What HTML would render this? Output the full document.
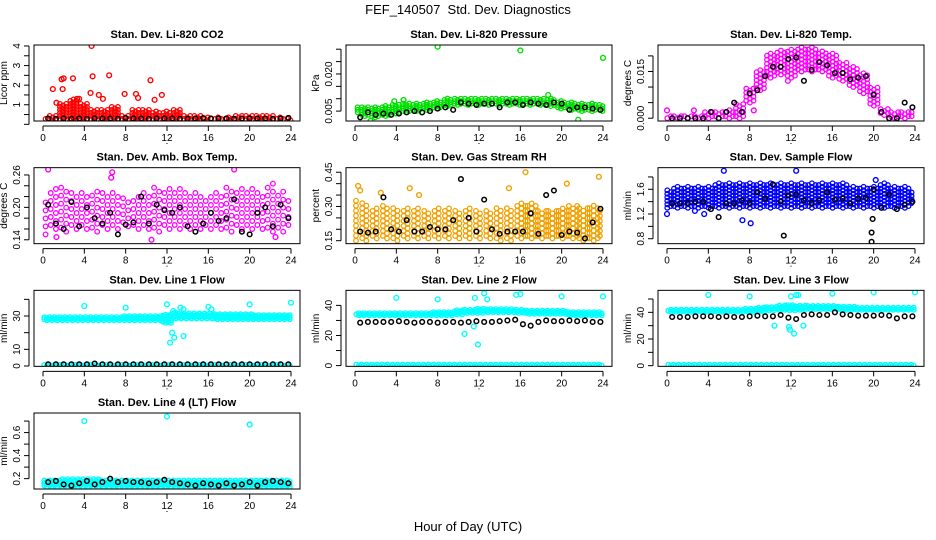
<!DOCTYPE html>
<html><head><meta charset="utf-8"><style>
body{margin:0;background:#fff}
svg{display:block;font-family:"Liberation Sans",sans-serif}
</style></head><body>
<svg id="chart" width="936" height="540" viewBox="0 0 936 540">
<text x="468" y="14" text-anchor="middle" font-size="13" style="white-space:pre">FEF_140507&#160; Std. Dev. Diagnostics</text>
<text x="468" y="531" text-anchor="middle" font-size="13">Hour of Day (UTC)</text>
</svg>
<script>
const hours=[0,1,2,3,4,5,6,7,8,9,10,11,12,13,14,15,16,17,18,19,20,21,22,23,24];
const blackT=[0.5,1.25,2,2.75,3.5,4.25,5,5.75,6.5,7.25,8,8.75,9.5,10.25,11,11.75,12.5,13.25,14,14.75,15.5,16.25,17,17.75,18.5,19.25,20,20.75,21.5,22.25,23,23.75];
const xTicks=[0,4,8,12,16,20,24];

const co2Lo=[0.2,0.2,0.2,0.2,0.2,0.2,0.2,0.2,0.2,0.2,0.2,0.2,0.2,0.2,0.2,0.2,0.2,0.2,0.2,0.2,0.2,0.2,0.2,0.2,0.2];
const co2Hi=[0.4,0.5,1.1,1.3,1.1,0.8,0.8,0.9,0.5,0.8,0.8,0.7,0.7,0.8,0.5,0.45,0.4,0.4,0.4,0.45,0.45,0.5,0.45,0.4,0.35];
const co2Black=[0.3,0.28,0.3,0.28,0.3,0.28,0.3,0.3,0.3,0.28,0.32,0.3,0.3,0.28,0.3,0.3,0.3,0.28,0.28,0.3,0.32,0.3,0.3,0.3,0.28,0.3,0.3,0.3,0.3,0.28,0.3,0.33];
const co2OutT=[4.7,4.8,6.4,1.8,2,2.9,0.95,1.9,10.4,11.5,9,9.2,5.4,7.9,10.8,3.5,1.3,3.3,4.6,5.8];
const co2OutV=[4.0,2.45,2.5,2.3,2.35,2.35,1.8,1.8,2.25,1.5,1.55,1.35,1.5,1.55,1.25,1.3,1.1,1.3,1.6,1.3];

const presLo=[0.004,0.003,0.0025,0.003,0.004,0.0045,0.005,0.0055,0.006,0.007,0.0075,0.0075,0.0075,0.0075,0.0075,0.0075,0.0075,0.0075,0.0075,0.007,0.006,0.0055,0.005,0.005,0.005];
const presHi=[0.0075,0.007,0.007,0.0075,0.008,0.0085,0.0085,0.009,0.0095,0.0105,0.0105,0.0105,0.0105,0.0105,0.0105,0.0105,0.0105,0.0105,0.0105,0.0105,0.0095,0.009,0.0085,0.0085,0.008];
const presBlack=[0.0025,0.0045,0.0035,0.004,0.0035,0.004,0.0045,0.005,0.0045,0.005,0.006,0.0065,0.0055,0.0085,0.008,0.0075,0.008,0.008,0.0065,0.0085,0.0085,0.0075,0.0085,0.008,0.0075,0.0085,0.008,0.0055,0.0065,0.0065,0.006,0.0055];
const presOutT=[8,16,24,1.5,21.6,3.8,4.7,6.5,18.7];
const presOutV=[0.031,0.0295,0.0265,0.001,0.0015,0.009,0.0095,0.0045,0.0115];

const tempLo=[0,0,0,0,0,0,0,0,0.005,0.009,0.013,0.014,0.013,0.015,0.015,0.015,0.013,0.012,0.01,0.008,0.004,0.001,0,0,0];
const tempHi=[0.001,0.001,0.001,0.001,0.002,0.002,0.003,0.005,0.01,0.016,0.021,0.022,0.022,0.023,0.023,0.022,0.021,0.018,0.017,0.015,0.01,0.003,0.002,0.002,0.002];
const tempBlack=[0,0,0,0,0,0.002,0,0.002,0.005,0.002,0.008,0.009,0.0135,0.0165,0.0165,0.019,0.0195,0.012,0.0155,0.018,0.017,0.0145,0.0145,0.0125,0.013,0.0135,0.0075,0.002,0,0,0.005,0.0035];
const tempOutT=[0,2.6,8.4,11.7];
const tempOutV=[0.0025,0.0025,0.0025,0.012];

const boxLo=[0.15,0.16,0.155,0.16,0.16,0.155,0.16,0.16,0.165,0.16,0.16,0.155,0.16,0.16,0.16,0.16,0.16,0.16,0.155,0.16,0.16,0.16,0.155,0.155,0.16];
const boxHi=[0.22,0.24,0.24,0.23,0.23,0.235,0.23,0.23,0.22,0.225,0.23,0.24,0.24,0.235,0.23,0.23,0.225,0.23,0.24,0.24,0.235,0.23,0.245,0.23,0.22];
const boxBlack=[0.205,0.17,0.16,0.21,0.165,0.2,0.18,0.17,0.19,0.15,0.168,0.172,0.22,0.17,0.205,0.195,0.19,0.2,0.165,0.155,0.17,0.19,0.175,0.18,0.215,0.155,0.15,0.19,0.2,0.165,0.205,0.18];
const boxOutT=[0.5,6.6,6.7,18.5,10.5,1.3,22.5];
const boxOutV=[0.27,0.255,0.265,0.27,0.14,0.145,0.145];

const rhLo=[0.15,0.15,0.16,0.16,0.15,0.16,0.16,0.16,0.16,0.16,0.16,0.16,0.16,0.16,0.15,0.15,0.16,0.16,0.16,0.16,0.16,0.16,0.15,0.15,0.16];
const rhHi=[0.33,0.32,0.3,0.31,0.3,0.3,0.3,0.29,0.3,0.3,0.29,0.3,0.29,0.29,0.3,0.3,0.32,0.32,0.29,0.29,0.3,0.31,0.3,0.31,0.3];
const rhBlack=[0.19,0.185,0.19,0.34,0.2,0.19,0.24,0.19,0.19,0.21,0.2,0.2,0.24,0.42,0.25,0.19,0.33,0.2,0.18,0.19,0.19,0.19,0.27,0.18,0.35,0.37,0.175,0.19,0.185,0.16,0.23,0.29];
const rhOutT=[0.3,0.5,5.3,6.2,16.5,23.6,20.5,14.9,2.5];
const rhOutV=[0.39,0.37,0.38,0.35,0.45,0.43,0.4,0.38,0.36];

const flowLo=[1.3,1.3,1.3,1.3,1.3,1.3,1.3,1.3,1.3,1.3,1.3,1.3,1.3,1.3,1.3,1.3,1.3,1.3,1.3,1.3,1.3,1.3,1.3,1.3,1.35];
const flowHi=[1.6,1.65,1.65,1.65,1.65,1.7,1.7,1.7,1.7,1.7,1.7,1.7,1.7,1.7,1.7,1.7,1.7,1.7,1.65,1.65,1.65,1.7,1.65,1.65,1.6];
const flowBlack=[1.37,1.37,1.38,1.4,1.4,1.28,1.15,1.37,1.37,1.42,1.38,1.55,1.45,1.68,1.4,1.5,1.52,1.42,1.38,1.42,1.55,1.43,1.45,1.37,1.45,1.46,1.6,1.3,1.52,1.28,1.35,1.4];
const flowOutT=[0,5.5,12.5,7.3,3.6,20.2,8.1,2.7];
const flowOutV=[1.2,1.9,1.9,1.1,1.2,1.75,1.05,1.25];
const flowBlackOutT=[11.3,19.8,19.8,19.9];
const flowBlackOutV=[0.85,0.9,0.75,1.12];

const l1Lo=[27.5,27.5,27.5,27.5,27.5,27.5,27.5,27.5,27.5,27.5,27.5,27.5,26,28.5,28.5,28.5,28.5,28,28,28,28,28,28,28,28];
const l1Hi=[29.5,29.5,29.5,29.5,29.5,29.5,29.5,29.5,30,30,30,30,31,31.5,31.5,31.5,31.5,31,31,31,31,30.5,30.5,30.5,30.5];
const l1Black=[1,1,1,1,1,1,1.5,1,1,1,1,1,1,1,1,1,1,1,1,1,1,1,1,1,1,1,1,1,1,1,1,1];
const l1OutT=[4,8,12,12.6,12.8,13.3,13.6,16,16.3,20,24,12.3,12.5,12.7,13.6];
const l1OutV=[36,35,37,33,32,35,34,35.5,34,37,38,14,20,17,18];

const l2Lo=[33.5,33.5,33.5,33.5,33.5,33.5,33.5,33.5,33.5,33.5,34,35,35,35.5,35.5,35.5,35,34.5,34.5,34.5,34.5,33.5,33.5,33.5,33.5];
const l2Hi=[35,35,35,35,35,35,35,35,35.5,36,37,37.5,38,38,38,38,37.5,37,37,37,36.5,36,36,36,36];
const l2Black=[28.5,29,29,29,29,29.5,29,28.5,29,29,28.5,29,29,28.5,29,29.5,29,29,29.5,30,30.5,27.5,26.5,29,30,29.5,29.5,30,29.5,30,29,29];
const l2OutT=[4,8,11.6,12.5,12.8,15.6,16,20,24,10.6,11.5,11.9];
const l2OutV=[45,44,45,48,44,47,47.5,46,46,21,26,14];

const l3Lo=[40.5,40.5,40.5,40.5,40.5,40.5,40.5,40.5,40.5,40.5,41.5,42,41.5,42,42.5,42.5,42.5,42,42,42,42,42,42,42,42];
const l3Hi=[42.5,42.5,42.5,42.5,42.5,42.5,42.5,42.5,43,43.5,44,45,45.5,45.5,45,45,45,44.5,44.5,44,44,43.5,43.5,43.5,43.5];
const l3Black=[36.5,36.5,36.5,37,37,37,36.5,37,36.5,36.5,37,37.5,37,37,38,36,35,38,38.5,38,38,40,38.5,38,37.5,37.5,37.5,38,37.5,35.5,37,37];
const l3OutT=[4,8,12,12.5,12.7,16,20,24,11.8,12.3,11.9,13.2,10.4];
const l3OutV=[53,52,52,53,53,54,55,55,29,24,27,30,30];

const l4Lo=[0.13,0.13,0.13,0.13,0.13,0.13,0.13,0.13,0.13,0.13,0.13,0.13,0.13,0.13,0.13,0.13,0.13,0.13,0.13,0.13,0.13,0.13,0.13,0.13,0.13];
const l4Hi=[0.19,0.19,0.2,0.2,0.2,0.2,0.19,0.19,0.19,0.19,0.19,0.19,0.19,0.19,0.19,0.19,0.19,0.19,0.19,0.19,0.19,0.19,0.19,0.19,0.19];
const l4Black=[0.17,0.18,0.15,0.14,0.16,0.18,0.15,0.17,0.2,0.17,0.18,0.17,0.17,0.16,0.17,0.19,0.17,0.16,0.15,0.14,0.16,0.15,0.14,0.16,0.14,0.15,0.17,0.14,0.17,0.18,0.17,0.16];
const l4OutT=[4,12,20];
const l4OutV=[0.7,0.74,0.67];
const zeroLo=[0,0,0,0,0,0,0,0,0,0,0,0,0,0,0,0,0,0,0,0,0,0,0,0,0];
const zeroHi=[1,1,1,1,1,1,1,1,1,1,1,1,1,1,1,1,1,1,1,1,1,1,1,1,1];

const svg=document.getElementById('chart');
const NS='http://www.w3.org/2000/svg';
function mk(tag,at,parent){const e=document.createElementNS(NS,tag);for(const k in at)e.setAttribute(k,at[k]);(parent||svg).appendChild(e);return e;}

const panels=[
 {name:'co2',title:'Stan. Dev. Li-820 CO2',ylab:'Licor ppm',c:0,r:0,ymin:0.17,ymax:4.05,ticks:[0,0.5,1,1.5,2,2.5,3,3.5,4],labels:{1:'1',2:'2',3:'3',4:'4'},color:'#ff0000',bands:[[co2Lo,co2Hi]],step:3,hstep:0.3,sw:1.3,black:co2Black,outT:co2OutT,outV:co2OutV},
 {name:'pressure',title:'Stan. Dev. Li-820 Pressure',ylab:'kPa',c:1,r:0,ymin:0.001,ymax:0.0317,ticks:[0.005,0.01,0.015,0.02,0.025,0.03],labels:{0.005:'0.005',0.02:'0.020'},color:'#00e000',bands:[[presLo,presHi]],step:2.5,hstep:0.3,sw:1.3,black:presBlack,outT:presOutT,outV:presOutV},
 {name:'temp',title:'Stan. Dev. Li-820 Temp.',ylab:'degrees C',c:2,r:0,ymin:-0.0009,ymax:0.0235,ticks:[0,0.005,0.01,0.015,0.02],labels:{0:'0.000',0.015:'0.015'},color:'#ff00ff',bands:[[tempLo,tempHi]],step:4,hstep:0.35,sw:1.3,black:tempBlack,outT:tempOutT,outV:tempOutV},
 {name:'box-temp',title:'Stan. Dev. Amb. Box Temp.',ylab:'degrees C',c:0,r:1,ymin:0.1328,ymax:0.2735,ticks:[0.14,0.16,0.18,0.2,0.22,0.24,0.26],labels:{0.14:'0.14',0.2:'0.20',0.26:'0.26'},color:'#ff00ff',bands:[[boxLo,boxHi]],step:8,hstep:0.5,sw:1.3,black:boxBlack,outT:boxOutT,outV:boxOutV},
 {name:'gas-rh',title:'Stan. Dev. Gas Stream RH',ylab:'percent',c:1,r:1,ymin:0.137,ymax:0.47,ticks:[0.15,0.2,0.25,0.3,0.35,0.4,0.45],labels:{0.15:'0.15',0.3:'0.30',0.45:'0.45'},color:'#f0a000',bands:[[rhLo,rhHi]],step:5,hstep:0.4,sw:1.3,black:rhBlack,outT:rhOutT,outV:rhOutV},
 {name:'sample-flow',title:'Stan. Dev. Sample Flow',ylab:'ml/min',c:2,r:1,ymin:0.72,ymax:1.95,ticks:[0.8,1,1.2,1.4,1.6,1.8],labels:{0.8:'0.8',1.2:'1.2',1.6:'1.6'},color:'#0000ff',bands:[[flowLo,flowHi]],step:3.5,hstep:0.35,sw:1.3,black:flowBlack,outT:flowOutT,outV:flowOutV,bOutT:flowBlackOutT,bOutV:flowBlackOutV},
 {name:'line1-flow',title:'Stan. Dev. Line 1 Flow',ylab:'ml/min',c:0,r:2,ymin:-0.2,ymax:45.4,ticks:[0,10,20,30,40],labels:{0:'0',10:'10',30:'30'},color:'#00ffff',bands:[[l1Lo,l1Hi],[zeroLo,zeroHi]],step:2,hstep:0.25,sw:1.4,black:l1Black,outT:l1OutT,outV:l1OutV},
 {name:'line2-flow',title:'Stan. Dev. Line 2 Flow',ylab:'ml/min',c:1,r:2,ymin:-0.5,ymax:50,ticks:[0,10,20,30,40],labels:{0:'0',20:'20',40:'40'},color:'#00ffff',bands:[[l2Lo,l2Hi],[zeroLo,zeroHi]],step:2,hstep:0.25,sw:1.4,black:l2Black,outT:l2OutT,outV:l2OutV},
 {name:'line3-flow',title:'Stan. Dev. Line 3 Flow',ylab:'ml/min',c:2,r:2,ymin:-0.5,ymax:56.5,ticks:[0,10,20,30,40,50],labels:{0:'0',20:'20',40:'40'},color:'#00ffff',bands:[[l3Lo,l3Hi],[zeroLo,zeroHi]],step:2,hstep:0.25,sw:1.4,black:l3Black,outT:l3OutT,outV:l3OutV},
 {name:'line4-flow',title:'Stan. Dev. Line 4 (LT) Flow',ylab:'ml/min',c:0,r:3,ymin:0.11,ymax:0.77,ticks:[0.2,0.3,0.4,0.5,0.6,0.7],labels:{0.2:'0.2',0.4:'0.4',0.6:'0.6'},color:'#00ffff',bands:[[l4Lo,l4Hi]],step:2.5,hstep:0.25,sw:1.4,black:l4Black,outT:l4OutT,outV:l4OutV}
];

panels.forEach(p=>{
  const L=34+312*p.c, T=45+122.67*p.r, W=266, H=76, B=T+H;
  const g=mk('g',{});
  
  
  const xs=t=>L+9+t*10.333;
  const ys=v=>B-(v-p.ymin)/(p.ymax-p.ymin)*H;
  const clip=mk('clipPath',{id:'cl'+p.name},g);
  mk('rect',{x:L,y:T,width:W,height:H},clip);
  const pts=mk('g',{'clip-path':'url(#cl'+p.name+')'},g);
  
  
  p.bands.forEach(([lo,hi])=>{
    hours.forEach((h,i)=>{
      let col=0;
      for(let t=h-0.5+p.hstep/2;t<h+0.5;t+=p.hstep){
        col++;
        if(t<0||t>24)continue;
        const ya=ys(lo[i]), yb=ys(hi[i]);
        const off=(col%2)*p.step/2;
        for(let y=ya-off;y>=yb-0.01;y-=p.step){
          mk('circle',{cx:xs(t).toFixed(1),cy:y.toFixed(1),r:2.3,fill:'none',stroke:p.color,'stroke-width':p.sw},pts);
        }
      }
    });
  });
  p.outT.forEach((t,i)=>{
    const c=mk('circle',{cx:xs(t),cy:ys(p.outV[i]),r:2.4,fill:'none',stroke:p.color,'stroke-width':1.4},pts);
    
    
  });
  blackT.forEach((t,i)=>{
    const c=mk('circle',{cx:xs(t),cy:ys(p.black[i]),r:2.3,fill:'none',stroke:'#000','stroke-width':1.5},pts);
    
    
  });
  if(p.bOutT)p.bOutT.forEach((t,i)=>{
    const c=mk('circle',{cx:xs(t),cy:ys(p.bOutV[i]),r:2.3,fill:'none',stroke:'#000','stroke-width':1.5},pts);
    
    
  });
  const box=mk('rect',{x:L,y:T,width:W,height:H,fill:'none',stroke:'#000','stroke-width':1},g);
  
  
  const tt=mk('text',{x:L+W/2,y:T-7,'text-anchor':'middle','font-size':11,'font-weight':'bold'},g);
  tt.textContent=p.title;
  
  
  mk('line',{x1:xs(0),x2:xs(24),y1:B+5,y2:B+5,stroke:'#000'},g);
  xTicks.forEach(t=>{
    mk('line',{x1:xs(t),x2:xs(t),y1:B+5,y2:B+10,stroke:'#000'},g);
    const lt=mk('text',{x:xs(t),y:B+20,'text-anchor':'middle','font-size':10},g);
    lt.textContent=t;
    
    
  });
  mk('rect',{x:L+W/2-0.5,y:B+22,width:1,height:1,fill:'#000'},g);
  const tk=p.ticks;
  mk('line',{x1:L-5,x2:L-5,y1:ys(tk[0]),y2:ys(tk[tk.length-1]),stroke:'#000'},g);
  tk.forEach(v=>{
    mk('line',{x1:L-10,x2:L-5,y1:ys(v),y2:ys(v),stroke:'#000'},g);
    if(p.labels[v]!==undefined){
      const yy=ys(v), xx=L-14;
      const lt=mk('text',{x:xx,y:yy,'text-anchor':'middle','font-size':10,transform:`rotate(-90 ${xx} ${yy})`},g);
      lt.textContent=p.labels[v];
      
      
    }
  });
  const yl=L-27, ym=T+H/2;
  const ylt=mk('text',{x:yl,y:ym,'text-anchor':'middle','font-size':10,transform:`rotate(-90 ${yl} ${ym})`},g);
  ylt.textContent=p.ylab;
  
  
});
</script>
</body></html>
